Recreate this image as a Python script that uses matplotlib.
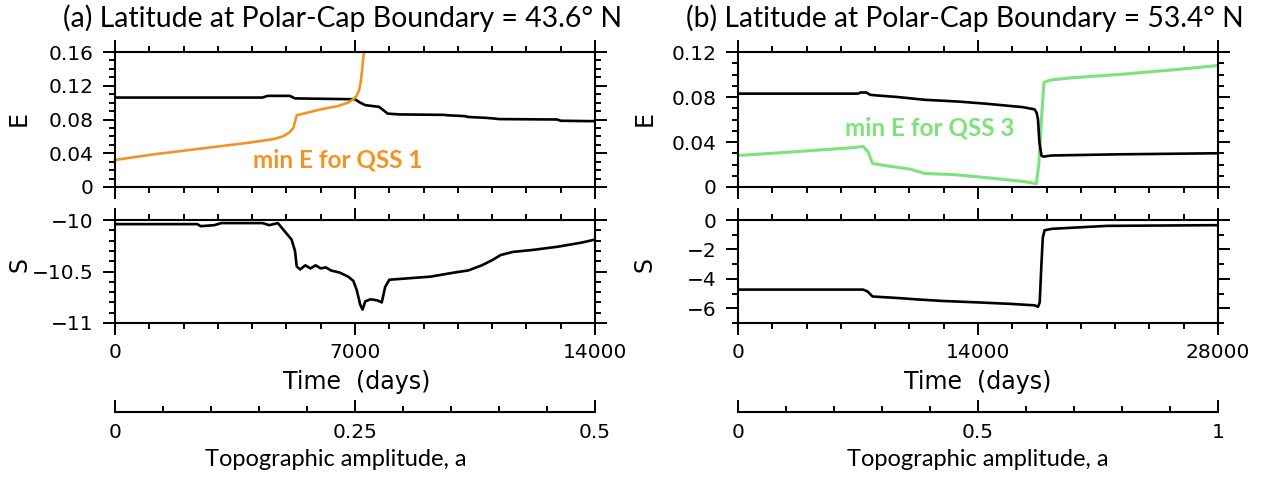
import numpy as np
import matplotlib
matplotlib.use('Agg')
import matplotlib.pyplot as plt
from matplotlib.ticker import MultipleLocator, FuncFormatter

# ---- data ----
# (a) polar-cap boundary 43.6 N
t_e_a = [0, 4300, 4450, 5100, 5250, 7000, 7150, 7300, 7700, 7800, 7950, 8300,
         9600, 9700, 10200, 10300, 10800, 11100, 11200, 12900, 13000, 14000]
e_a = [0.106, 0.106, 0.108, 0.108, 0.105, 0.104, 0.100, 0.097, 0.095, 0.092,
       0.087, 0.086, 0.0855, 0.085, 0.084, 0.083, 0.082, 0.081, 0.0805, 0.080,
       0.0785, 0.078]

t_min_a = [0, 500, 1000, 2000, 3000, 4000, 4650, 4900, 5100, 5200, 5300, 5600,
           6000, 6500, 6800, 6950, 7050, 7120, 7170, 7210, 7260]
emin_a = [0.032, 0.035, 0.038, 0.043, 0.048, 0.053, 0.057, 0.060, 0.065, 0.070,
          0.085, 0.088, 0.092, 0.096, 0.100, 0.104, 0.108, 0.115, 0.125, 0.140,
          0.160]

t_s_a = [0, 2400, 2500, 2900, 3100, 4300, 4500, 4750, 5000, 5150, 5250, 5300,
         5400, 5550, 5700, 5850, 6000, 6150, 6300, 6550, 6800, 6950, 7050, 7150,
         7220, 7300, 7450, 7650, 7780, 7880, 8000, 8400, 9200, 9900, 10300,
         10700, 11000, 11250, 11600, 12200, 12900, 13600, 14000]
s_a = [-10.04, -10.04, -10.06, -10.05, -10.03, -10.03, -10.05, -10.03, -10.13,
       -10.19, -10.30, -10.45, -10.48, -10.44, -10.47, -10.44, -10.47, -10.46,
       -10.49, -10.51, -10.55, -10.59, -10.68, -10.82, -10.87, -10.79, -10.77,
       -10.78, -10.80, -10.65, -10.58, -10.57, -10.55, -10.51, -10.49, -10.44,
       -10.39, -10.34, -10.31, -10.29, -10.26, -10.22, -10.19]

# (b) polar-cap boundary 53.4 N
t_e_b = [0, 7000, 7150, 7500, 7700, 8000, 9300, 10900, 12800, 14500, 16600,
         17300, 17420, 17500, 17580, 17700, 17800, 18300, 22000, 28000]
e_b = [0.083, 0.083, 0.084, 0.084, 0.082, 0.0815, 0.080, 0.0775, 0.076, 0.074,
       0.071, 0.069, 0.066, 0.060, 0.040, 0.028, 0.027, 0.028, 0.029, 0.030]

t_min_b = [0, 3000, 6700, 7300, 7600, 7850, 8600, 10000, 10900, 12600, 14700,
           16600, 17400, 17550, 17700, 17850, 18200, 19400, 22200, 25300, 28000]
emin_b = [0.028, 0.031, 0.035, 0.036, 0.031, 0.021, 0.019, 0.016, 0.012, 0.011,
          0.008, 0.005, 0.003, 0.020, 0.060, 0.093, 0.095, 0.097, 0.100, 0.104,
          0.108]

t_s_b = [0, 7300, 7550, 7850, 9300, 10500, 11900, 14000, 15900, 17300, 17500,
         17600, 17700, 17780, 17880, 18300, 19900, 21500, 28000]
s_b = [-4.73, -4.73, -4.85, -5.2, -5.3, -5.4, -5.5, -5.6, -5.7, -5.8, -5.9,
       -5.6, -3.0, -1.2, -0.7, -0.6, -0.5, -0.4, -0.35]

titles = ['(a) Latitude at Polar-Cap Boundary = 43.6\u00b0 N',
          '(b) Latitude at Polar-Cap Boundary = 53.4\u00b0 N']
tmax = [14000, 28000]
amax = [0.5, 1.0]
orange = '#F39324'
green = '#7DE27A'

W, H = 1268., 478.
NARROW = ['Lato', 'DejaVu Sans']
plt.rcParams['font.family'] = ['DejaVu Sans']


def fx(px):
    return px / W


def fy(py):
    return 1 - py / H


def num(v, pos=None):
    if abs(v) < 1e-12:
        return '0'
    return ('%g' % v).replace('-', '\u2212')


def style(ax, xlab=False):
    for sp in ax.spines.values():
        sp.set_linewidth(1.5)
    ax.tick_params(which='both', direction='out', top=True, right=True,
                   width=1.4, labelsize=14.5, pad=7)
    ax.tick_params(which='major', length=8.6)
    ax.tick_params(which='minor', length=4.3)
    ax.tick_params(axis='x', labelbottom=xlab, pad=6)
    ax.yaxis.set_major_formatter(FuncFormatter(num))
    ax.xaxis.set_major_formatter(FuncFormatter(num))


fig = plt.figure(figsize=(W / 100, H / 100), dpi=100)
fit = []   # (text, target width in px)

lefts = [115, 738]
for i in range(2):
    x0 = fx(lefts[i])
    w = 480 / W
    axE = fig.add_axes([x0, fy(187), w, 135 / H])
    axS = fig.add_axes([x0, fy(323), w, 103 / H])
    axA = fig.add_axes([x0, fy(412), w, 0.001])

    if i == 0:
        axE.plot(t_e_a, e_a, color='black', lw=1.9)
        axE.plot(t_min_a, emin_a, color=orange, lw=1.9, clip_on=False)
        tq = axE.text(6500, 0.032, 'min E for QSS 1', color=orange,
                      fontsize=17, fontweight='bold', family=NARROW,
                      ha='center', va='center')
        axS.plot(t_s_a, s_a, color='black', lw=1.9)
        axE.set_ylim(0, 0.16)
        axE.yaxis.set_major_locator(MultipleLocator(0.04))
        axE.yaxis.set_minor_locator(MultipleLocator(0.01))
        axS.set_ylim(-11, -10)
        axS.yaxis.set_major_locator(MultipleLocator(0.5))
        axS.yaxis.set_minor_locator(MultipleLocator(0.1))
        xmaj, xmin = 7000, 1000
        amaj, amin = 0.25, 0.05
    else:
        axE.plot(t_min_b, emin_b, color=green, lw=2.2)
        axE.plot(t_e_b, e_b, color='black', lw=1.9)
        tq = axE.text(11200, 0.0525, 'min E for QSS 3', color=green,
                      fontsize=17, fontweight='bold', family=NARROW,
                      ha='center', va='center')
        axS.plot(t_s_b, s_b, color='black', lw=1.9)
        axE.set_ylim(0, 0.12)
        axE.yaxis.set_major_locator(MultipleLocator(0.04))
        axE.yaxis.set_minor_locator(MultipleLocator(0.01))
        axS.set_ylim(-7, 0)
        axS.yaxis.set_major_locator(MultipleLocator(2))
        axS.yaxis.set_minor_locator(MultipleLocator(1))
        xmaj, xmin = 14000, 2000
        amaj, amin = 0.5, 0.1
    fit.append((tq, 170))

    for ax, lab in ((axE, False), (axS, True)):
        ax.set_xlim(0, tmax[i])
        ax.xaxis.set_major_locator(MultipleLocator(xmaj))
        ax.xaxis.set_minor_locator(MultipleLocator(xmin))
        style(ax, lab)

    # topographic amplitude axis
    axA.set_xlim(0, amax[i])
    axA.set_yticks([])
    for s in ('top', 'left', 'right'):
        axA.spines[s].set_visible(False)
    axA.spines['bottom'].set_linewidth(1.5)
    axA.patch.set_visible(False)
    axA.xaxis.set_major_locator(MultipleLocator(amaj))
    axA.xaxis.set_minor_locator(MultipleLocator(amin))
    axA.xaxis.set_major_formatter(FuncFormatter(num))
    axA.tick_params(which='both', direction='in', width=1.4, labelsize=14.5,
                    pad=8)
    axA.tick_params(which='major', length=8.6)
    axA.tick_params(which='minor', length=4.3)

    # labels
    tt = fig.text(fx([343, 965][i]), fy(18), titles[i], family=NARROW,
                  fontsize=20, ha='center', va='center')
    fit.append((tt, 557))
    tl = fig.text(fx([357, 978][i]), fy(382), 'Time  (days)', fontsize=15,
                  ha='center', va='center')
    fit.append((tl, 148))
    ta = fig.text(fx([336, 978][i]), fy(460), 'Topographic amplitude, a',
                  family=NARROW, fontsize=18, ha='center', va='center')
    fit.append((ta, 262))
    ylx = [19, 645][i]
    fig.text(fx(ylx), fy(118), 'E', fontsize=17, rotation=90,
             ha='center', va='center')
    fig.text(fx(ylx), fy(265), 'S', fontsize=17, rotation=90,
             ha='center', va='center')

# scale the free texts so their widths match the reference
fig.canvas.draw()
rend = fig.canvas.get_renderer()
for t, target in fit:
    wpx = t.get_window_extent(rend).width
    t.set_fontsize(t.get_fontsize() * target / wpx)

fig.savefig('out.png', dpi=100)
